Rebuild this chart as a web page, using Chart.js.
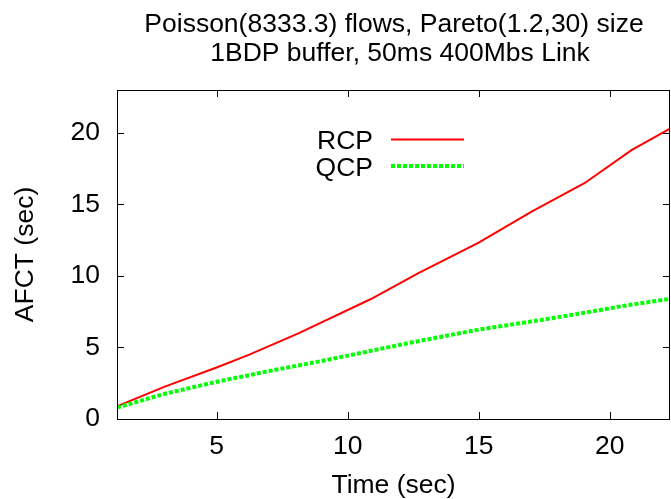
<!DOCTYPE html>
<html>
<head>
<meta charset="utf-8">
<script src="https://cdn.jsdelivr.net/npm/chart.js@4/dist/chart.umd.min.js"></script>
<style>
  html, body { margin: 0; padding: 0; background: #fff; }
  #wrap { width: 671px; height: 499px; }
</style>
</head>
<body>
<div id="wrap"><canvas id="afctChart" width="671" height="499"></canvas></div>
<script>
const titleLines = ['Poisson(8333.3) flows, Pareto(1.2,30) size', '1BDP buffer, 50ms 400Mbs Link'];
const seriesNames = ['RCP', 'QCP'];

const rcpTime = [1.2, 3, 5, 6.25, 8.14, 10.87, 12.7, 15, 17.02, 19.05, 20.83, 22.3];
const rcpAfct = [0.88, 2.25, 3.6, 4.5, 6.0, 8.37, 10.2, 12.33, 14.5, 16.5, 18.8, 20.3];

const qcpTime = [1.2, 3, 5, 7, 9, 12.3, 15, 17.3, 18.8, 20.5, 22.3];
const qcpAfct = [0.8, 1.75, 2.6, 3.35, 4.05, 5.3, 6.25, 6.9, 7.35, 7.9, 8.4];

const xTicks = [5, 10, 15, 20];
const yTicks = [0, 5, 10, 15, 20];

const FONT = 'Liberation Sans, Arial, Helvetica, sans-serif';

function toPoints(xs, ys) {
    return xs.map((x, i) => ({ x: x, y: ys[i] }));
}

// gnuplot style box with inward (mirrored) ticks, title and key
const gnuplotFrame = {
    id: 'gnuplotFrame',
    afterDatasetsDraw(chart) {
        const ctx = chart.ctx;
        const a = chart.chartArea;
        const xs = chart.scales.x, ys = chart.scales.y;
        ctx.save();
        ctx.strokeStyle = '#000';
        ctx.lineWidth = 1;
        ctx.strokeRect(a.left + 0.5, a.top + 0.5, a.right - a.left - 1, a.bottom - a.top);
        ctx.beginPath();
        xTicks.forEach(v => {
            const px = Math.round(xs.getPixelForValue(v)) + 0.5;
            ctx.moveTo(px, a.bottom); ctx.lineTo(px, a.bottom - 7);
            ctx.moveTo(px, a.top); ctx.lineTo(px, a.top + 7);
        });
        yTicks.forEach(v => {
            const py = Math.round(ys.getPixelForValue(v)) + 0.5;
            ctx.moveTo(a.left, py); ctx.lineTo(a.left + 7, py);
            ctx.moveTo(a.right, py); ctx.lineTo(a.right - 7, py);
        });
        ctx.stroke();

        // title
        ctx.fillStyle = '#000';
        ctx.font = '26.5px ' + FONT;
        ctx.textAlign = 'center';
        ctx.textBaseline = 'alphabetic';
        ctx.fillText(titleLines[0], 394, 32);
        ctx.fillText(titleLines[1], 400, 61);

        // key
        const ds = chart.data.datasets;
        const rows = [139.5, 166];
        ctx.textAlign = 'right';
        ds.forEach((d, i) => {
            ctx.fillStyle = '#000';
            ctx.fillText(d.label, 373, rows[i] + 9.5);
            ctx.beginPath();
            ctx.strokeStyle = d.borderColor;
            ctx.lineWidth = d.borderWidth;
            ctx.setLineDash(d.borderDash || []);
            ctx.moveTo(391, rows[i]);
            ctx.lineTo(464, rows[i]);
            ctx.stroke();
        });
        ctx.restore();
    }
};

const config = {
    type: 'line',
    data: {
        datasets: [
            {
                label: seriesNames[0],
                data: toPoints(rcpTime, rcpAfct),
                borderColor: '#ff0000',
                borderWidth: 2,
                pointRadius: 0,
                tension: 0,
                order: 2
            },
            {
                label: seriesNames[1],
                data: toPoints(qcpTime, qcpAfct),
                borderColor: '#00ff00',
                borderWidth: 4,
                borderDash: [4, 2],
                pointRadius: 0,
                tension: 0,
                order: 1
            }
        ]
    },
    options: {
        responsive: false,
        animation: false,
        events: [],
        layout: { padding: { left: 0, right: 1, top: 90, bottom: 0 } },
        plugins: {
            legend: { display: false },
            tooltip: { enabled: false },
            title: { display: false }
        },
        scales: {
            x: {
                type: 'linear',
                min: 1.2,
                max: 22.3,
                afterBuildTicks: (scale) => { scale.ticks = xTicks.map(v => ({ value: v })); },
                afterFit: (scale) => { scale.height = 80; },
                grid: { display: false, drawTicks: false },
                border: { display: false },
                ticks: {
                    color: '#000',
                    padding: 12,
                    maxRotation: 0,
                    font: { family: FONT, size: 26.5 }
                },
                title: {
                    display: true,
                    text: 'Time (sec)',
                    color: '#000',
                    padding: { top: 0, bottom: 0 },
                    font: { family: FONT, size: 26.5, lineHeight: 1 }
                }
            },
            y: {
                type: 'linear',
                min: 0,
                max: 23,
                afterBuildTicks: (scale) => { scale.ticks = yTicks.map(v => ({ value: v })); },
                afterFit: (scale) => { scale.width = 117; },
                grid: { display: false, drawTicks: false },
                border: { display: false },
                ticks: {
                    color: '#000',
                    padding: 17,
                    font: { family: FONT, size: 26.5 }
                },
                title: {
                    display: true,
                    text: 'AFCT (sec)',
                    color: '#000',
                    padding: { top: 12, bottom: 0 },
                    font: { family: FONT, size: 26.5, lineHeight: 1 }
                }
            }
        }
    },
    plugins: [gnuplotFrame]
};

const ctx = document.getElementById('afctChart').getContext('2d');
window.afctChart = new Chart(ctx, config);
</script>
</body>
</html>
